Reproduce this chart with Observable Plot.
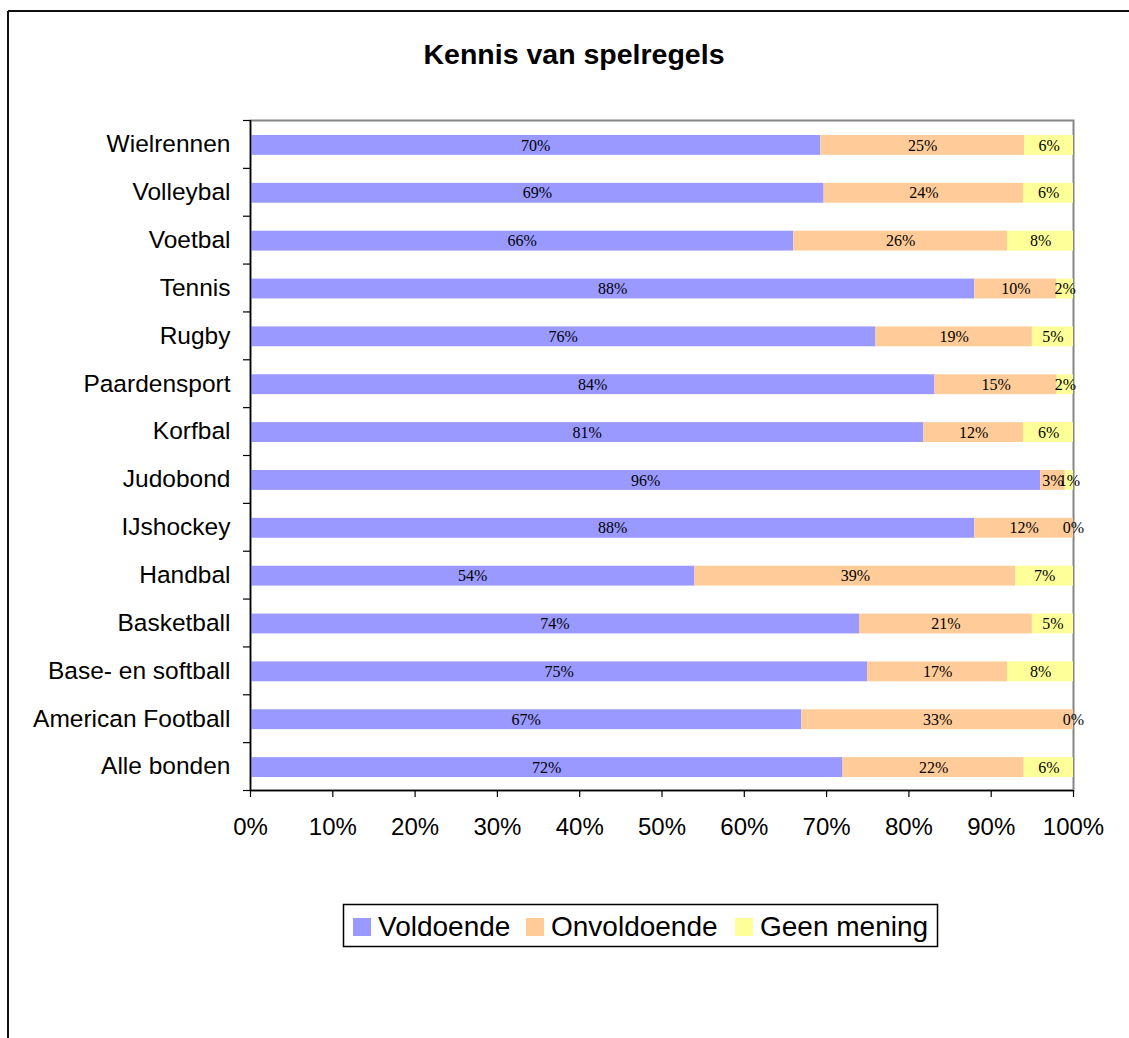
<!DOCTYPE html>
<html>
<head>
<meta charset="utf-8">
<script src="https://cdn.jsdelivr.net/npm/d3@7"></script>
<script src="https://cdn.jsdelivr.net/npm/@observablehq/plot@0.6"></script>
<style>
  html, body { margin: 0; padding: 0; background: #fff; overflow: hidden; }
  #chart svg { display: block; }
</style>
</head>
<body>
<div id="chart"></div>
<script>
const title = "Kennis van spelregels";
const categories = ["Wielrennen","Volleybal","Voetbal","Tennis","Rugby","Paardensport","Korfbal","Judobond","IJshockey","Handbal","Basketball","Base- en softball","American Football","Alle bonden"];
const series = ["Voldoende","Onvoldoende","Geen mening"];
const voldoende   = [70,69,66,88,76,84,81,96,88,54,74,75,67,72];
const onvoldoende = [25,24,26,10,19,15,12, 3,12,39,21,17,33,22];
const geenMening  = [ 6, 6, 8, 2, 5, 2, 6, 1, 0, 7, 5, 8, 0, 6];
const colors = ["#9999FF","#FFCC99","#FFFF99"];
const xTicks = [0,0.1,0.2,0.3,0.4,0.5,0.6,0.7,0.8,0.9,1];

const seriesValues = [voldoende, onvoldoende, geenMening];
const data = [];
categories.forEach((c, i) => {
  series.forEach((s, j) => data.push({category: c, series: s, value: seriesValues[j][i]}));
});

const W = 1129, H = 1038;
const mL = 250, mR = 56, mT = 120, mB = 248;
const step = (H - mT - mB) / categories.length;

const svg = Plot.plot({
  width: W,
  height: H,
  marginLeft: mL, marginRight: mR, marginTop: mT, marginBottom: mB,
  style: {fontFamily: "'Liberation Sans', Arial, sans-serif", background: "white", color: "black"},
  x: {domain: [0, 1], label: null},
  y: {domain: categories, padding: 0, round: false, label: null},
  color: {domain: series, range: colors},
  marks: [
    Plot.frame({stroke: "#868686", strokeWidth: 2}),
    Plot.barX(data, Plot.stackX({x: "value", y: "category", z: "series", fill: "series", offset: "normalize", insetTop: 15, insetBottom: 13})),
    Plot.text(data, Plot.stackX({x: "value", y: "category", z: "series", offset: "normalize", dy: 1,
      text: d => d.value + "%", fill: "black", fontFamily: "'Liberation Serif', 'Times New Roman', serif", fontSize: 16})),
    Plot.ruleX([0], {stroke: "black", strokeWidth: 1.5}),
    Plot.ruleY([categories[categories.length - 1]], {y: d => d, x1: 0, x2: 1, dy: step / 2, stroke: "black", strokeWidth: 1.5}),
    Plot.ruleY(categories, {y: d => d, x1: 0, x2: 0, insetLeft: -7, dy: -step / 2, stroke: "black", strokeWidth: 1.2}),
    Plot.ruleY([categories[categories.length - 1]], {y: d => d, x1: 0, x2: 0, insetLeft: -7, dy: step / 2, stroke: "black", strokeWidth: 1.2}),
    Plot.axisY({tickSize: 0, tickPadding: 20, fontSize: 24.5, label: null}),
    Plot.axisX({ticks: xTicks, tickFormat: d3.format(".0%"), tickSize: 7, tickPadding: 20, fontSize: 24, label: null, stroke: "black", strokeWidth: 1.2})
  ]
});

const sel = d3.select(svg);
// outer chart-area border (left and top visible)
sel.append("line").attr("x1", 8).attr("y1", 11).attr("x2", W + 10).attr("y2", 11).attr("stroke", "#111").attr("stroke-width", 2);
sel.append("line").attr("x1", 8).attr("y1", 11).attr("x2", 8).attr("y2", H + 10).attr("stroke", "#111").attr("stroke-width", 2);

// title
sel.append("text").text(title)
  .attr("x", 574).attr("y", 64)
  .attr("text-anchor", "middle")
  .attr("font-family", "'Liberation Sans', Arial, sans-serif")
  .attr("font-weight", "bold").attr("font-size", 28.5).attr("fill", "black");

// legend
const lg = sel.append("g").attr("text-anchor", "start");
lg.append("rect").attr("x", 343.5).attr("y", 904.5).attr("width", 594).attr("height", 42)
  .attr("fill", "white").attr("stroke", "black").attr("stroke-width", 1.5);
const legendX = [353, 526, 735];
series.forEach((s, i) => {
  lg.append("rect").attr("x", legendX[i]).attr("y", 918).attr("width", 18).attr("height", 18).attr("fill", colors[i]);
  lg.append("text").text(s).attr("x", legendX[i] + 25).attr("y", 935.5)
    .attr("text-anchor", "start")
    .attr("font-family", "'Liberation Sans', Arial, sans-serif").attr("font-size", 28).attr("fill", "black");
});

document.getElementById("chart").appendChild(svg);
</script>
</body>
</html>
